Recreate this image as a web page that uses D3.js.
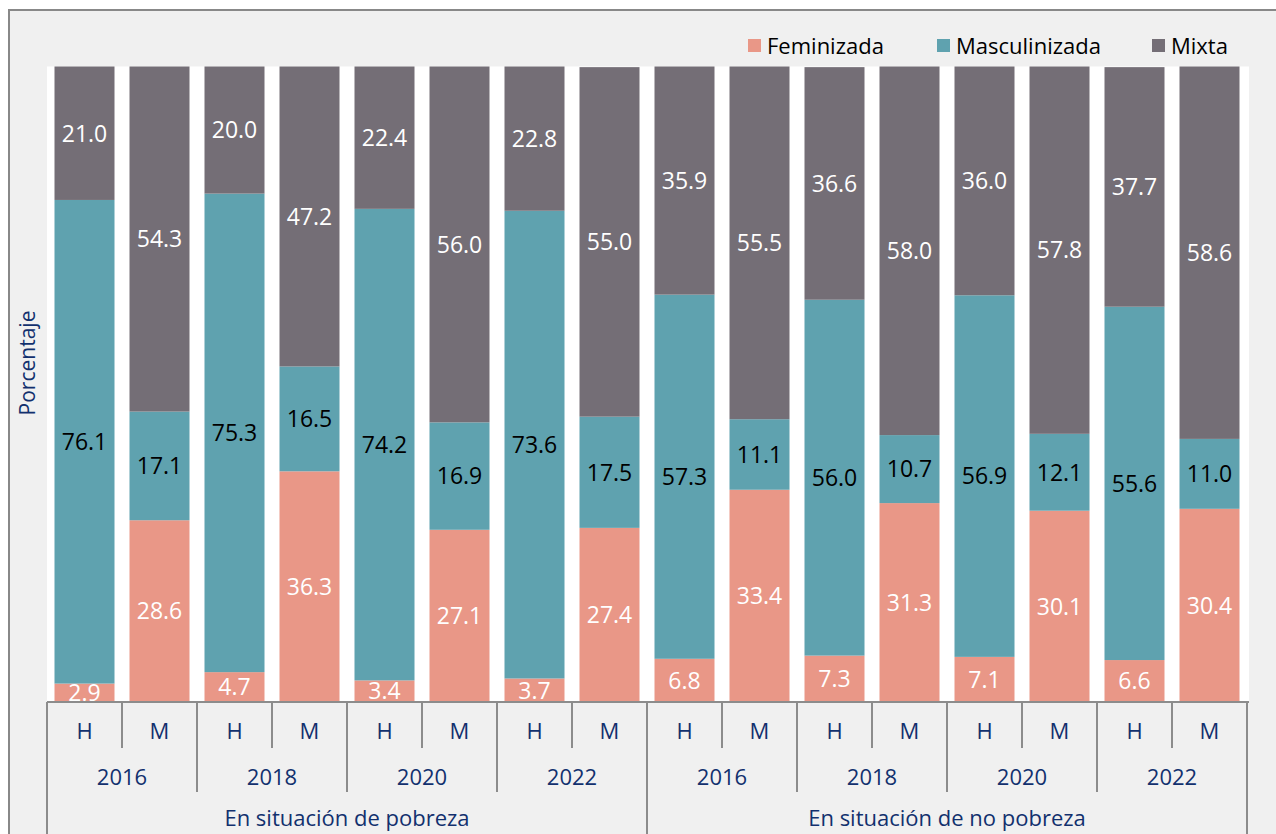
<!DOCTYPE html>
<html><head><meta charset="utf-8">
<script src="https://cdn.jsdelivr.net/npm/d3@7"></script>
<style>body{margin:0;background:#fff;}svg{display:block;}</style>
</head><body>
<svg id="c" width="1276" height="834"></svg>
<script>
const groups = ["En situación de pobreza","En situación de no pobreza"];
const years = ["2016","2018","2020","2022"];
const sexes = ["H","M"];
const seriesNames = ["Feminizada","Masculinizada","Mixta"];
const colors = ["#E99787","#5FA2AF","#746E76"];
const labelColors = ["#ffffff","#000000","#ffffff"];
// order: group, year, sex
const feminizada    = [2.9,28.6,4.7,36.3,3.4,27.1,3.7,27.4, 6.8,33.4,7.3,31.3,7.1,30.1,6.6,30.4];
const masculinizada = [76.1,17.1,75.3,16.5,74.2,16.9,73.6,17.5, 57.3,11.1,56.0,10.7,56.9,12.1,55.6,11.0];
const mixta         = [21.0,54.3,20.0,47.2,22.4,56.0,22.8,55.0, 35.9,55.5,36.6,58.0,36.0,57.8,37.7,58.6];

const keys = [];
groups.forEach((g,gi)=>years.forEach((y,yi)=>sexes.forEach((s,si)=>keys.push({g:gi,y:yi,s:si,id:gi+"-"+yi+"-"+si}))));
const rows = keys.map((k,i)=>({id:k.id, sex:sexes[k.s], Feminizada:feminizada[i], Masculinizada:masculinizada[i], Mixta:mixta[i]}));

const svg = d3.select("#c");
const font = "'Open Sans', sans-serif";
const navy = "#12306e";
const L=47, R=1247, T=66.5, B=702;

svg.append("rect").attr("x",9).attr("y",10).attr("width",1280).attr("height",840)
  .attr("fill","#f0f0f0").attr("stroke","#888").attr("stroke-width",2);
svg.append("rect").attr("x",L).attr("y",T).attr("width",R-L+2).attr("height",B-T).attr("fill","#fff");

const x = d3.scaleBand().domain(rows.map(r=>r.id)).range([L,R]).paddingInner(0.2).paddingOuter(0.1);
const y = d3.scaleLinear().domain([0,100]).range([B,T]);

const stack = d3.stack().keys(seriesNames);
const series = stack(rows);

series.forEach((s,si)=>{
  const g = svg.append("g");
  g.selectAll("rect").data(s).join("rect")
    .attr("x",d=>x(d.data.id)).attr("width",x.bandwidth())
    .attr("y",d=>y(Math.min(d[1],100))).attr("height",d=>y(d[0])-y(Math.min(d[1],100)))
    .attr("fill",colors[si]);
  g.selectAll("text").data(s).join("text")
    .attr("x",d=>x(d.data.id)+x.bandwidth()/2)
    .attr("y",d=>(y(d[0])+y(Math.min(d[1],100)))/2)
    .attr("dy","0.36em").attr("text-anchor","middle")
    .attr("font-family",font).attr("font-size",23).attr("fill",labelColors[si])
    .text(d=>d.data[seriesNames[si]].toFixed(1));
});

// category axis
const ax = svg.append("g").attr("stroke","#8c8c8c").attr("stroke-width",2);
ax.append("line").attr("x1",L).attr("x2",R+2).attr("y1",B).attr("y2",B);
const step = x.step();
for(let i=0;i<=rows.length;i++){
  const xx = L + i*step;
  let y2 = 748;
  if(i%2===0) y2 = 792;
  if(i%8===0) y2 = 840;
  ax.append("line").attr("x1",xx).attr("x2",xx).attr("y1",B).attr("y2",y2);
}
const tg = svg.append("g").attr("font-family",font).attr("font-size",22).attr("fill",navy).attr("text-anchor","middle");
rows.forEach((r,i)=>{
  tg.append("text").attr("x",x(r.id)+x.bandwidth()/2).attr("y",731).attr("dy","0.36em").text(r.sex);
});
keys.filter(k=>k.s===0).forEach((k,i)=>{
  tg.append("text").attr("x",L+step*(2*i+1)).attr("y",777).attr("dy","0.36em").text(years[k.y]);
});
groups.forEach((g,gi)=>{
  tg.append("text").attr("x",L+step*(8*gi+4)).attr("y",818).attr("dy","0.36em").text(g);
});

// y title
svg.append("text").attr("transform","translate(27,363) rotate(-90)").attr("text-anchor","middle")
  .attr("dy","0.36em").attr("font-family",font).attr("font-size",21).attr("fill",navy).text("Porcentaje");

// legend
const legX = [748,937,1152];
const lg = svg.append("g");
seriesNames.forEach((n,i)=>{
  lg.append("rect").attr("x",legX[i]).attr("y",39).attr("width",13).attr("height",13).attr("fill",colors[i]);
  lg.append("text").attr("x",legX[i]+19).attr("y",46).attr("dy","0.36em").attr("font-family",font)
    .attr("font-size",22).attr("fill","#000").text(n);
});
</script>
</body></html>
